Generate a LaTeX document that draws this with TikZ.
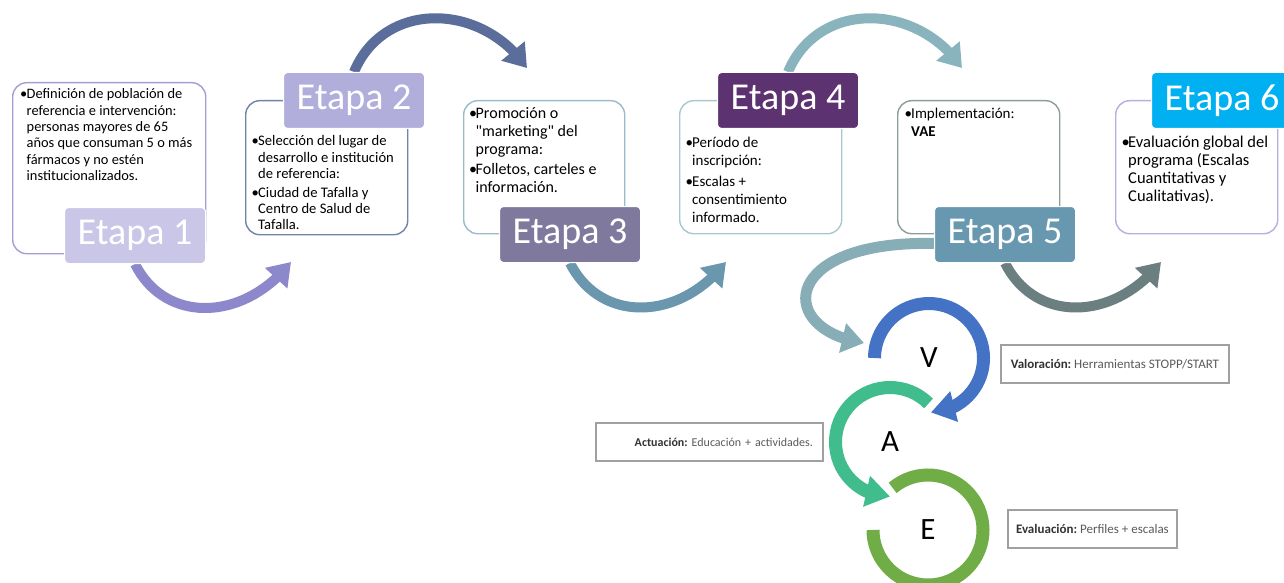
\documentclass[tikz,border=0pt]{standalone}
\usepackage{fontspec}
\setmainfont{Carlito}[Ligatures=TeXOff]
\usetikzlibrary{arrows.meta,bending,calc}
\definecolor{acA}{HTML}{8D87CB}
\definecolor{acB}{HTML}{5B6E9B}
\definecolor{acC}{HTML}{6A96AE}
\definecolor{acD}{HTML}{89B3BD}
\definecolor{acE}{HTML}{6C7F80}
\definecolor{acF}{HTML}{87AEB7}
\definecolor{lbA}{HTML}{C9C6E8}
\definecolor{lbB}{HTML}{B2AEDC}
\definecolor{lbC}{HTML}{7F7A9D}
\definecolor{lbD}{HTML}{5C3370}
\definecolor{lbE}{HTML}{6898AF}
\definecolor{lbF}{HTML}{00B0F0}
\definecolor{bdA}{HTML}{A49DD6}
\definecolor{bdB}{HTML}{7083A8}
\definecolor{bdC}{HTML}{9ABBC9}
\definecolor{bdD}{HTML}{A8C8CE}
\definecolor{bdE}{HTML}{8E9C9C}
\definecolor{bdF}{HTML}{B6ADE3}
\definecolor{ringV}{HTML}{4472C4}
\definecolor{ringA}{HTML}{40BC8D}
\definecolor{ringE}{HTML}{70AD47}
\definecolor{notedark}{HTML}{333333}
\definecolor{notegray}{HTML}{5A5A5A}
\definecolor{noteframe}{HTML}{A0A0A0}
\newcommand\mybul{\makebox[6.5pt][l]{\textbullet}}
\frenchspacing
\begin{document}
\begin{tikzpicture}[x=1pt,y=-1pt,
  stagebox/.style={draw, line width=1.4pt, rounded corners=14pt, fill=white, inner sep=0pt, anchor=north west},
  stagelabel/.style={rounded corners=4pt, text=white, font=\fontsize{38}{40}\selectfont,
     minimum width=141pt, minimum height=56pt, inner sep=0pt, draw=white, line width=1pt, anchor=north west},
  flow/.style={line width=10pt, -{Triangle[length=22pt,width=29pt]}},
  ring/.style={line width=13pt},
  ringtip/.style={-{Triangle[length=24pt,width=30pt]}},
  boxtext/.style={anchor=base west, inner sep=0pt, text=black},
  notebox/.style={draw=noteframe, line width=1.8pt, inner sep=0pt, minimum height=38pt,
     anchor=north west, text=notegray},
  letter/.style={font=\fontsize{31}{31}\selectfont, inner sep=0pt, text depth=0pt}
]
\path[clip, use as bounding box] (0,0) rectangle (1284,583);
\fill[white] (0,0) rectangle (1284,583);

\coordinate (t2) at (291,262);
\coordinate (t3) at (527,68);
\coordinate (t4) at (726,262);
\coordinate (t5) at (962,68);
\coordinate (t6) at (1161,262);
\coordinate (tv) at (864,343);

% stage boxes
\node[stagebox, draw=bdA, minimum width=193pt, minimum height=171pt] (b1) at (12,82) {};
\node[stagebox, draw=bdB, minimum width=162pt, minimum height=134pt] (b2) at (245,100) {};
\node[stagebox, draw=bdC, minimum width=161pt, minimum height=133pt] (b3) at (463,100) {};
\node[stagebox, draw=bdD, minimum width=162pt, minimum height=133pt] (b4) at (679,100) {};
\node[stagebox, draw=bdE, minimum width=162pt, minimum height=133pt] (b5) at (897,100) {};
\node[stagebox, draw=bdF, minimum width=162pt, minimum height=133pt] (b6) at (1115,100) {};

% box texts
\node[boxtext] (x1) at (20,99) {\fontsize{14.4}{16.3}\selectfont
\begin{tabular}[t]{@{}l@{}l@{}}
\mybul & Definición de población de\\
 & referencia e intervención:\\
 & personas mayores de 65\\
 & años que consuman 5 o más\\
 & fármacos y no estén\\
 & institucionalizados.
\end{tabular}};
\node[boxtext] (x2) at (251.5,146) {\fontsize{14.6}{16.4}\selectfont
\begin{tabular}[t]{@{}l@{}l@{}}
\mybul & Selección del lugar de\\
 & desarrollo e institución\\
 & de referencia:\\[2pt]
\mybul & Ciudad de Tafalla y\\
 & Centro de Salud de\\
 & Tafalla.
\end{tabular}};
\node[boxtext] (x3) at (469,118) {\fontsize{16}{18.3}\selectfont
\begin{tabular}[t]{@{}l@{}l@{}}
\mybul & Promoción o\\
 & "marketing" del\\
 & programa:\\[1.5pt]
\mybul & Folletos, carteles e\\
 & información.
\end{tabular}};
\node[boxtext] (x4) at (685.5,147) {\fontsize{15}{18}\selectfont
\begin{tabular}[t]{@{}l@{}l@{}}
\mybul & Período de\\
 & inscripción:\\[3.5pt]
\mybul & Escalas +\\
 & consentimiento\\
 & informado.
\end{tabular}};
\node[boxtext] (x5) at (904.5,118) {\fontsize{15}{18}\selectfont
\begin{tabular}[t]{@{}l@{}l@{}}
\mybul & Implementación:\\
 & \textbf{VAE}
\end{tabular}};
\node[boxtext] (x6) at (1121.5,147) {\fontsize{16.5}{18.3}\selectfont
\begin{tabular}[t]{@{}l@{}l@{}}
\mybul & Evaluación global del\\
 & programa (Escalas\\
 & Cuantitativas y\\
 & Cualitativas).
\end{tabular}};

% stage labels (named, for connector ends)
\node[stagelabel, fill=lbA] (l1) at (64,207) {Etapa 1};
\node[stagelabel, fill=lbB] (l2) at (283,72) {Etapa 2};
\node[stagelabel, fill=lbC] (l3) at (499,206) {Etapa 3};
\node[stagelabel, fill=lbD] (l4) at (717,72) {Etapa 4};
\node[stagelabel, fill=lbE] (l5) at (934,206) {Etapa 5};
\node[stagelabel, fill=lbF] (l6) at (1151,72) {Etapa 6};

% VAE letters
\node[letter] (V) at (929,358) {V};
\node[letter] (A) at (890,442) {A};
\node[letter] (E) at (928,530) {E};

% connectors
\draw[flow, draw=acA] (l1.south) .. controls +(30,60) and +(-47,60) .. (t2);
\draw[flow, draw=acB] (l2.north) .. controls +(30,-72) and +(-45,-66) .. (t3);
\draw[flow, draw=acC] (l3.south) .. controls +(30,60) and +(-47,60) .. (t4);
\draw[flow, draw=acD] (l4.north) .. controls +(30,-72) and +(-45,-66) .. (t5);
\draw[flow, draw=acE] (l5.south) .. controls +(30,60) and +(-47,60) .. (t6);
\draw[flow, line width=11pt, draw=acF] ([yshift=-9pt]l5.west) .. controls (780,240) and (775,330) .. (tv);

% labels again on top of the arrow starts
\node[stagelabel, fill=lbA] at (64,207) {Etapa 1};
\node[stagelabel, fill=lbB] at (283,72) {Etapa 2};
\node[stagelabel, fill=lbC] at (499,206) {Etapa 3};
\node[stagelabel, fill=lbD] at (717,72) {Etapa 4};
\node[stagelabel, fill=lbE] at (934,206) {Etapa 5};
\node[stagelabel, fill=lbF] at (1151,72) {Etapa 6};

% VAE rings
\draw[ring, ringtip, draw=ringV] ($(V)+(180:54.5)$) arc[start angle=180, end angle=448, radius=54.5];
\draw[ring, ringtip, draw=ringA] ($(A)+(-45:54.5)$) arc[start angle=-45, end angle=-270, radius=54.5];
\draw[ring, draw=ringE] ($(E)+(230:55)$) arc[start angle=230, end angle=540, radius=55];

% note boxes
\node[notebox, minimum width=228pt, font=\fontsize{13}{15}\selectfont] (nv) at (1000,344)
  {\textcolor{notedark}{\textbf{Valoración:}} Herramientas STOPP/START};
\node[notebox, text width=207pt, inner xsep=10pt, align=right, font=\fontsize{12}{14}\selectfont] (na) at (595,422)
  {\textcolor{notedark}{\textbf{Actuación:}} Educación + actividades.};
\node[notebox, minimum width=169pt, font=\fontsize{13}{15}\selectfont] (ne) at (1007,509)
  {\textcolor{notedark}{\textbf{Evaluación:}} Perfiles + escalas};
\end{tikzpicture}
\end{document}
